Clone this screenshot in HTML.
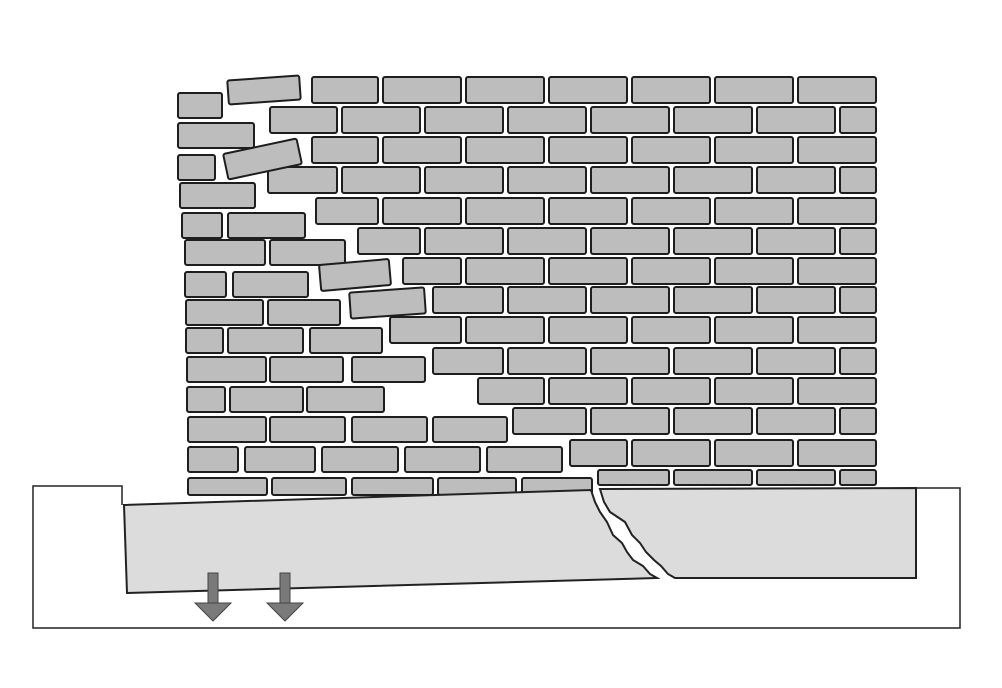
<!DOCTYPE html>
<html><head><meta charset="utf-8"><style>
html,body{margin:0;padding:0;background:#fff;}
svg{display:block;}
</style></head><body>
<svg id="s" width="1002" height="688" viewBox="0 0 1002 688" xmlns="http://www.w3.org/2000/svg">
<g id="bricks" fill="#bdbdbd" stroke="#1e1e1e" stroke-width="2" stroke-linejoin="round"></g>
<polygon points="124,505 591,490 595,502 600,512 607,522 613,535 622,543 627,552 633,560 643,566 650,574 657,578 127,593" fill="#dcdcdc" stroke="#222" stroke-width="2"/>
<polygon points="600,489 916,488 916,578 675,578 668,574 661,566 654,560 646,552 640,543 632,535 625,522 610,512 604,502" fill="#dcdcdc" stroke="#222" stroke-width="2"/>
<polyline points="122,505 122,486 33,486 33,628 960,628 960,488 916,488" fill="none" stroke="#222" stroke-width="1.5"/>
<g fill="#7a7a7a" stroke="#444" stroke-width="1">
<rect x="208" y="573" width="10" height="31"/><polygon points="195,603 231,603 213,621"/>
<rect x="280" y="573" width="10" height="31"/><polygon points="267,603 303,603 285,621"/>
</g>
</svg>
<script>
var g=document.getElementById('bricks'),NS='http://www.w3.org/2000/svg';
function b(x1,x2,y,h,rot){var r=document.createElementNS(NS,'rect');r.setAttribute('x',x1);r.setAttribute('y',y);r.setAttribute('width',x2-x1);r.setAttribute('height',h);r.setAttribute('rx',2);
if(rot){r.setAttribute('transform','rotate('+rot+' '+((x1+x2)/2)+' '+(y+h/2)+')');}g.appendChild(r);}
var ry=[77,107,137,167,198,228,258,287,317,348,378,408,440,470];
var rs=[312,270,312,268,316,358,403,433,390,433,478,513,570,598];
for(var k=0;k<14;k++){var h=k==13?15:26;var x=876;var first=true;
 while(x>rs[k]){var w=(k%2==1&&first)?36:78;first=false;var s=x-w;if(s-rs[k]<25)s=rs[k];b(s,x,ry[k],h);x=s-5;}}
var L=[
[93,[[178,222]]],[123,[[178,254]]],[155,[[178,215]]],[183,[[180,255]]],[213,[[182,222],[228,305]]],
[240,[[185,265],[270,345]]],[272,[[185,226],[233,308]]],[300,[[186,263],[268,340]]],[328,[[186,223],[228,303],[310,382]]],
[357,[[187,266],[270,343],[352,425]]],[387,[[187,225],[230,303],[307,384]]],[417,[[188,266],[270,345],[352,427],[433,507]]],
[447,[[188,238],[245,315],[322,398],[405,480],[487,562]]],[478,[[188,267],[272,346],[352,433],[438,516],[522,592]]]];
L.forEach(function(r){var h=r[0]==478?17:25;r[1].forEach(function(p){b(p[0],p[1],r[0],h);});});
b(228,300,78,24,-4);b(225,300,146,26,-12);b(320,390,262,26,-5);b(350,425,290,26,-4);
</script>
</body></html>
